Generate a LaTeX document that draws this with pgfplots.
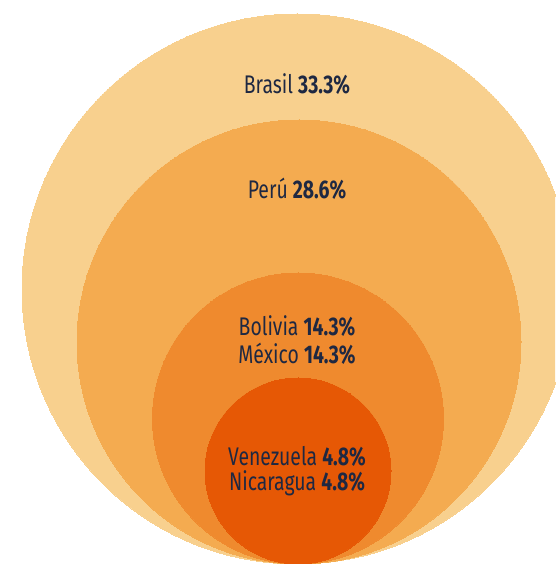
\documentclass[border=0pt]{standalone}
\usepackage{pgfplots}
\pgfplotsset{compat=1.18}
\usepackage{fontspec}
\setmainfont[FakeStretch=0.76]{Fira Sans}
\definecolor{c1}{RGB}{248,208,142}
\definecolor{c2}{RGB}{244,171,80}
\definecolor{c3}{RGB}{239,138,46}
\definecolor{c4}{RGB}{230,88,5}
\definecolor{txt}{RGB}{30,40,66}
\begin{document}
\begin{tikzpicture}
\begin{axis}[
  x=1pt, y=1pt,
  xmin=0, xmax=555, ymin=0, ymax=565,
  hide axis,
  clip=true, clip marker paths=true,
  scale only axis,
]
\addplot[c1, only marks, mark=*, mark size=275pt, mark options={draw=c1, fill=c1, line width=0pt}] coordinates {(297,276)};
\addplot[c2, only marks, mark=*, mark size=222pt, mark options={draw=c2, fill=c2, line width=0pt}] coordinates {(299,223)};
\addplot[c3, only marks, mark=*, mark size=145.5pt, mark options={draw=c3, fill=c3, line width=0pt}] coordinates {(298,146.5)};
\addplot[c4, only marks, mark=*, mark size=93pt, mark options={draw=c4, fill=c4, line width=0pt}] coordinates {(298,94)};
\begin{scope}[every node/.style={font=\fontsize{25.5}{28}\selectfont, text=txt, inner sep=0pt}]
\node at (axis cs:297,481) {Brasil \textbf{33.3\%}};
\node at (axis cs:297,376) {Perú \textbf{28.6\%}};
\node at (axis cs:297,239) {Bolivia \textbf{14.3\%}};
\node at (axis cs:297,211) {México \textbf{14.3\%}};
\node at (axis cs:297,109) {Venezuela \textbf{4.8\%}};
\node at (axis cs:297,82) {Nicaragua \textbf{4.8\%}};
\end{scope}
\end{axis}
\pgfresetboundingbox
\path[use as bounding box] (current axis.south west) rectangle (current axis.north east);
\end{tikzpicture}
\end{document}
